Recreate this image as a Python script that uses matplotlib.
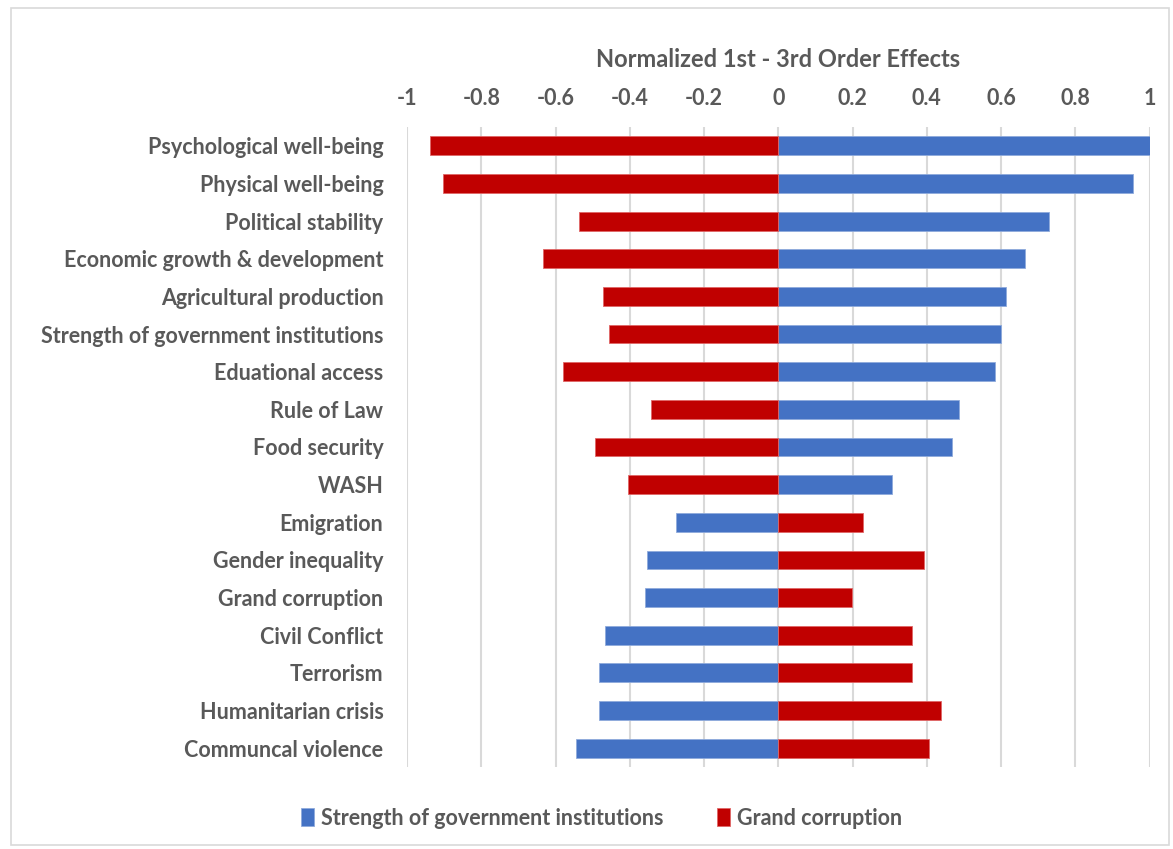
import numpy as np
import matplotlib.pyplot as plt
from matplotlib.patches import Rectangle

categories = ['Psychological well-being', 'Physical well-being', 'Political stability',
              'Economic growth & development', 'Agricultural production',
              'Strength of government institutions', 'Eduational access', 'Rule of Law',
              'Food security', 'WASH', 'Emigration', 'Gender inequality', 'Grand corruption',
              'Civil Conflict', 'Terrorism', 'Humanitarian crisis', 'Communcal violence']
strength = [1.0, 0.956, 0.729, 0.665, 0.614, 0.600, 0.584, 0.487, 0.468, 0.307,
            -0.275, -0.353, -0.358, -0.468, -0.482, -0.482, -0.546]
corruption = [-0.937, -0.904, -0.536, -0.633, -0.471, -0.455, -0.581, -0.342, -0.493, -0.406,
              0.229, 0.393, 0.199, 0.361, 0.361, 0.439, 0.406]
ticks = [-1, -0.8, -0.6, -0.4, -0.2, 0, 0.2, 0.4, 0.6, 0.8, 1]
tick_labels = ['-1', '-0.8', '-0.6', '-0.4', '-0.2', '0', '0.2', '0.4', '0.6', '0.8', '1']

blue = '#4472C4'
red = '#C00000'
grey = '#595959'
plt.rcParams['font.family'] = ['Lato', 'DejaVu Sans']
plt.rcParams['font.weight'] = 'bold'

fig = plt.figure(figsize=(11.73, 8.49), dpi=100)
fig.patches.append(Rectangle((0.009, 0.005), 0.988, 0.985, transform=fig.transFigure,
                             fill=False, edgecolor='#d9d9d9', linewidth=1.2))
ax = fig.add_axes([0.347, 0.0966, 0.633, 0.7538])

y = np.arange(len(categories))
ax.barh(y, strength, height=0.5, color=blue, edgecolor='#8faadc', linewidth=0.6,
        label='Strength of government institutions', zorder=3)
ax.barh(y, corruption, height=0.5, color=red, edgecolor='#e06666', linewidth=0.6,
        label='Grand corruption', zorder=3)

ax.set_xlim(-1, 1)
ax.set_ylim(len(categories) - 0.5, -0.5)
ax.set_xticks(ticks)
ax.set_xticklabels(tick_labels)
ax.set_yticks(y)
ax.set_yticklabels(categories)
ax.xaxis.tick_top()
ax.xaxis.set_label_position('top')
ax.set_xlabel('Normalized 1st - 3rd Order Effects', fontsize=17, fontweight='bold',
              color=grey, labelpad=15)
ax.tick_params(axis='both', length=0, labelsize=15.5, labelcolor=grey)
ax.tick_params(axis='x', pad=13)
ax.tick_params(axis='y', pad=17)
ax.grid(axis='x', color='#d9d9d9', linewidth=1.5, zorder=0)
for s in ax.spines.values():
    s.set_visible(False)

ax.legend(loc='center', bbox_to_anchor=(0.262, -0.08),
          ncol=2, frameon=False, fontsize=15.5, labelcolor=grey, handlelength=0.6,
          handleheight=0.9, handletextpad=0.3, columnspacing=2.5,
          bbox_transform=ax.transAxes)

fig.savefig('out.png', dpi=100)
